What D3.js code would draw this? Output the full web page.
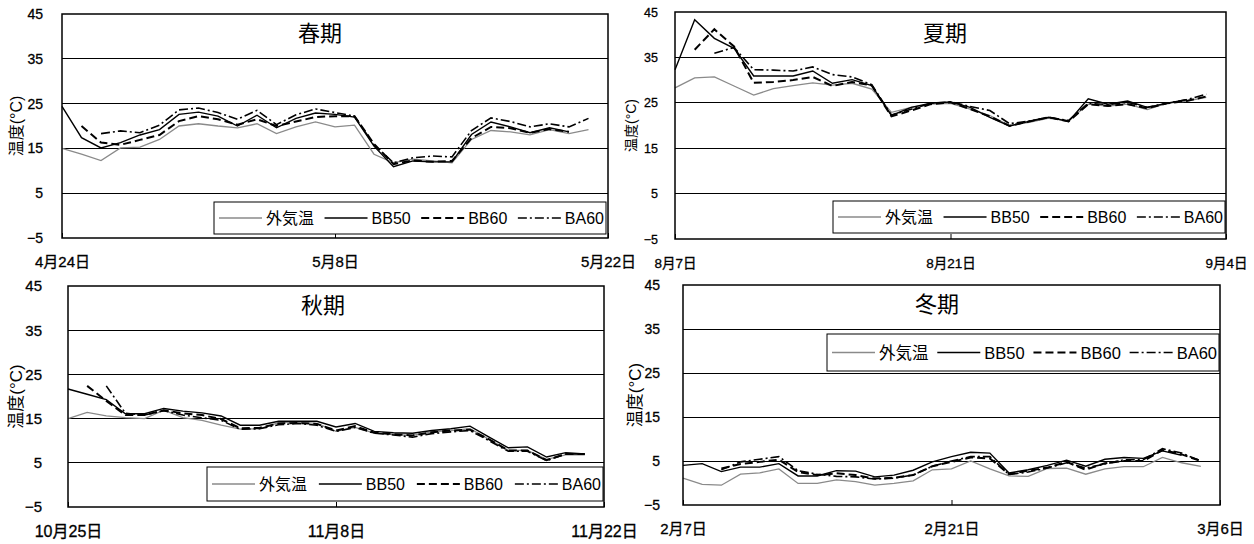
<!DOCTYPE html>
<html><head><meta charset="utf-8">
<script src="https://cdn.jsdelivr.net/npm/d3@7"></script>
<style>
body{margin:0;background:#fff}
svg text{font-family:"Liberation Sans",Arial,"Noto Sans CJK JP",sans-serif;fill:#000}
</style></head><body>
<svg id="c" width="1254" height="544"></svg>
<script>
// Daily mean temperatures (°C) for four measurement periods
const seriesNames = ["外気温", "BB50", "BB60", "BA60"];
const seasonTitles = ["春期", "夏期", "秋期", "冬期"];
const startDates = ["2007-04-24", "2007-08-07", "2007-10-25", "2008-02-07"];
const yTickValues = [-5, 5, 15, 25, 35, 45];
const dateTickOffsets = [0, 14, 28];

const springOutdoor = [15.0, 13.7, 12.3, 15.1, 15.3, 17.0, 20.0, 20.5, 20.0, 19.6, 20.5, 18.3, 19.8, 20.9, 19.8, 20.2, 13.7, 11.8, 12.6, 12.2, 11.8, 17.0, 19.0, 18.7, 18.0, 19.2, 18.3, 19.2];
const springBB50 = [24.4, 17.4, 15.1, 16.3, 18.0, 19.2, 22.6, 23.1, 22.2, 20.0, 22.4, 19.6, 21.7, 22.9, 22.6, 22.0, 15.5, 10.9, 12.2, 12.0, 12.0, 18.1, 20.9, 19.8, 18.5, 19.6, 18.7, null];
const springBB60 = [null, 20.0, 16.3, 15.8, 16.9, 18.0, 21.1, 22.2, 21.5, 20.3, 21.5, 20.0, 21.0, 22.0, 22.2, 22.2, 16.0, 11.5, 12.3, 12.0, 12.2, 17.3, 19.8, 19.5, 18.5, 19.3, 18.7, null];
const springBA60 = [null, null, 18.3, 18.9, 18.5, 20.2, 23.6, 24.0, 23.0, 21.5, 23.5, 20.3, 22.5, 23.8, 23.0, 22.2, 15.8, 11.8, 12.9, 13.3, 13.1, 19.0, 21.8, 21.0, 19.8, 20.5, 19.8, 21.7];

const summerOutdoor = [28.3, 30.5, 30.7, 28.7, 26.7, 28.1, 28.8, 29.4, 28.9, 29.3, 28.0, 22.9, 24.0, 24.7, 24.9, 23.6, 22.2, 20.0, 20.7, 21.6, 21.1, 24.7, 24.3, 24.7, 23.5, 24.9, 25.4, 26.2];
const summerBB50 = [32.3, 43.3, 39.2, 37.0, 30.9, 30.9, 30.9, 32.0, 29.3, 30.1, 28.8, 22.2, 24.0, 24.9, 25.2, 24.0, 21.8, 19.9, 20.9, 21.8, 20.9, 25.9, 24.7, 25.4, 24.0, 24.9, 25.7, null];
const summerBB60 = [null, 36.7, 41.2, 37.4, 29.4, 29.6, 30.0, 30.7, 28.7, 29.6, 28.8, 22.0, 23.3, 24.7, 25.1, 23.6, 22.0, 19.9, 20.9, 21.8, 20.9, 24.7, 24.3, 24.7, 23.8, 24.9, 25.4, 26.4];
const summerBA60 = [null, null, 35.9, 37.2, 32.3, 32.2, 32.0, 32.9, 31.2, 30.7, 29.0, 22.3, 23.6, 24.9, 25.2, 24.2, 23.3, 20.4, 21.0, 21.8, 21.1, 24.9, 24.6, 25.1, 24.0, 24.9, 25.7, 26.9];

const autumnOutdoor = [15.0, 16.4, 15.6, 15.2, 15.0, 16.9, 15.2, 14.6, 13.5, 12.6, 12.7, 14.1, 14.2, 13.9, 12.1, 13.0, 11.7, 11.4, 11.2, 12.0, 12.3, 12.7, 10.3, 7.8, 7.8, 5.8, 6.8, 6.8];
const autumnBB50 = [21.7, 20.5, 19.3, 16.1, 16.1, 17.3, 16.7, 16.3, 15.6, 13.5, 13.5, 14.4, 14.4, 14.4, 13.1, 13.9, 12.1, 11.8, 11.7, 12.3, 12.7, 13.3, 10.8, 8.4, 8.6, 6.3, 7.3, 7.0];
const autumnBB60 = [null, 22.4, 19.0, 15.8, 15.8, 16.9, 16.2, 15.8, 14.9, 12.8, 12.9, 13.9, 14.0, 13.8, 12.3, 13.3, 11.8, 11.5, 11.2, 11.9, 12.3, 12.5, 10.3, 7.8, 7.8, 5.6, 7.0, 7.0];
const autumnBA60 = [null, null, 22.4, 16.2, 15.8, 16.8, 15.8, 15.2, 14.6, 12.6, 12.7, 13.6, 13.9, 13.5, 12.1, 13.0, 11.7, 11.3, 10.8, 11.6, 12.0, 12.3, 10.0, 7.6, 7.6, 5.5, 7.0, 7.0];

const winterOutdoor = [1.1, -0.3, -0.5, 2.0, 2.3, 3.2, -0.1, -0.1, 0.7, 0.3, -0.5, -0.1, 0.5, 3.0, 3.2, 5.0, 3.2, 1.6, 1.5, 3.3, 3.4, 2.0, 3.2, 3.7, 3.7, 5.8, 4.6, 3.8];
const winterBB50 = [4.0, 4.4, 2.6, 3.6, 3.6, 4.4, 1.6, 1.6, 2.8, 2.7, 1.4, 1.8, 2.9, 4.8, 6.0, 7.0, 6.8, 2.3, 3.0, 4.0, 5.2, 3.8, 5.4, 5.8, 5.6, 7.3, 6.3, null];
const winterBB60 = [null, null, 3.3, 4.3, 4.8, 5.3, 2.5, 1.8, 2.2, 1.8, 1.0, 1.2, 1.8, 3.8, 4.8, 5.8, 5.6, 2.0, 2.8, 3.5, 4.8, 3.0, 4.5, 5.0, 5.0, 7.5, 6.5, 5.0];
const winterBA60 = [null, null, 3.0, 4.8, 5.4, 6.0, 2.8, 2.0, 1.5, 1.4, 0.9, 1.1, 1.8, 3.8, 5.0, 6.0, 6.0, 1.9, 2.5, 3.4, 4.6, 3.4, 4.3, 5.3, 5.3, 7.8, 6.8, 5.0];

const seasonSeries = [
  [springOutdoor, springBB50, springBB60, springBA60],
  [summerOutdoor, summerBB50, summerBB60, summerBA60],
  [autumnOutdoor, autumnBB50, autumnBB60, autumnBA60],
  [winterOutdoor, winterBB50, winterBB60, winterBA60]
];

// line appearance per series
const lineStyles = [
  {stroke: "#8a8a8a", width: 1.3, dash: null},
  {stroke: "#000", width: 1.4, dash: null},
  {stroke: "#000", width: 2, dash: "8,4"},
  {stroke: "#000", width: 1.6, dash: "9,3,2,3"}
];

// panel geometry
const panels = [
  {x: 62, y: 14, w: 546, h: 224, titleX: 320, titleY: 33, yTitleX: 16, tickGap: 19,
   fs: {tick: 14, date: 15, legend: 16, yTitle: 16}, legend: {x: 214, y: 202, w: 392, h: 32}},
  {x: 675, y: 12, w: 551, h: 227, titleX: 945, titleY: 33, yTitleX: 631, tickGap: 17,
   fs: {tick: 12.5, date: 13.5, legend: 16, yTitle: 14}, legend: {x: 833, y: 201, w: 392, h: 32}},
  {x: 68, y: 286, w: 536, h: 221, titleX: 323, titleY: 305, yTitleX: 16, tickGap: 26,
   fs: {tick: 15, date: 16, legend: 16, yTitle: 17}, legend: {x: 207, y: 467, w: 396, h: 34}},
  {x: 683, y: 285, w: 537, h: 220, titleX: 937, titleY: 304, yTitleX: 635, tickGap: 23,
   fs: {tick: 14, date: 15, legend: 16.5, yTitle: 17}, legend: {x: 827, y: 334, w: 392, h: 37}}
];

const svg = d3.select("#c");
const parseDate = d3.timeParse("%Y-%m-%d");
const fmtDate = d3.timeFormat("%-m月%-d日");

panels.forEach((p, pi) => {
  const start = parseDate(startDates[pi]);
  const x = d3.scaleTime()
    .domain([start, d3.timeDay.offset(start, 28)])
    .range([p.x, p.x + p.w]);
  const y = d3.scaleLinear().domain([-5, 45]).range([p.y + p.h, p.y]);
  const g = svg.append("g");

  // horizontal gridlines
  g.selectAll("line.grid")
    .data(yTickValues.filter(v => v > -5 && v < 45))
    .join("line")
    .attr("x1", p.x).attr("x2", p.x + p.w)
    .attr("y1", d => y(d)).attr("y2", d => y(d))
    .attr("stroke", "#000").attr("stroke-width", 1)
    .attr("shape-rendering", "crispEdges");

  // y axis
  const ya = g.append("g").attr("transform", `translate(${p.x},0)`)
    .call(d3.axisLeft(y).tickValues(yTickValues).tickSize(0)
      .tickPadding(p.tickGap).tickFormat(d3.format("d")));
  ya.select(".domain").remove();
  ya.selectAll("text").attr("font-size", p.fs.tick)
    .style("font-family", '"Liberation Sans", Arial, sans-serif')
    .attr("stroke", "#000").attr("stroke-width", 0.3);

  // x axis with inward ticks
  const tickDates = dateTickOffsets.map(o => d3.timeDay.offset(start, o));
  const xa = g.append("g").attr("transform", `translate(0,${p.y + p.h})`)
    .call(d3.axisBottom(x).tickValues(tickDates).tickSize(-5).tickFormat(fmtDate));
  xa.select(".domain").remove();
  xa.selectAll("line").attr("stroke", "#000");
  xa.selectAll("text").attr("font-size", p.fs.date).attr("y", 24).attr("dy", "0.35em")
    .attr("stroke", "#000").attr("stroke-width", 0.3);

  // series lines
  const dates = seasonSeries[pi][0].map((_, i) => d3.timeDay.offset(start, i));
  seasonSeries[pi].forEach((vals, si) => {
    const st = lineStyles[si];
    const line = d3.line()
      .defined(d => d != null)
      .x((d, i) => x(dates[i]))
      .y(d => y(d));
    g.append("path")
      .attr("d", line(vals))
      .attr("fill", "none")
      .attr("stroke", st.stroke)
      .attr("stroke-width", st.width)
      .attr("stroke-dasharray", st.dash)
      .attr("stroke-linejoin", "miter");
  });

  // plot frame
  g.append("rect")
    .attr("x", p.x).attr("y", p.y).attr("width", p.w).attr("height", p.h)
    .attr("fill", "none").attr("stroke", "#000").attr("stroke-width", 1.5);

  // title
  g.append("text")
    .attr("x", p.titleX).attr("y", p.titleY)
    .attr("text-anchor", "middle").attr("dominant-baseline", "central")
    .attr("font-size", 22).text(seasonTitles[pi]);

  // y axis title
  g.append("text")
    .attr("transform", `translate(${p.yTitleX},${p.y + p.h / 2}) rotate(-90)`)
    .attr("text-anchor", "middle").attr("dominant-baseline", "central")
    .attr("font-size", p.fs.yTitle).text("温度(°C)");

  // legend: items spread so the last label ends at the box's right edge
  const L = p.legend;
  const lg = g.append("g");
  lg.append("rect").attr("x", L.x).attr("y", L.y).attr("width", L.w).attr("height", L.h)
    .attr("fill", "#fff").attr("stroke", "#000").attr("stroke-width", 1);
  const cy = L.y + L.h / 2;
  const labels = seriesNames.map(name => lg.append("text")
    .attr("y", cy).attr("dominant-baseline", "central")
    .attr("font-size", p.fs.legend).text(name));
  const widths = labels.map(t => t.node().getComputedTextLength());
  const used = d3.sum(widths) + seriesNames.length * 47;
  const gap = (L.w - 5 - 2 - used) / (seriesNames.length - 1);
  let cx = L.x + 5;
  seriesNames.forEach((name, si) => {
    const st = lineStyles[si];
    lg.append("line")
      .attr("x1", cx).attr("x2", cx + 43).attr("y1", cy).attr("y2", cy)
      .attr("stroke", st.stroke).attr("stroke-width", st.width)
      .attr("stroke-dasharray", st.dash);
    labels[si].attr("x", cx + 47);
    cx += 47 + widths[si] + gap;
  });
});
</script>
</body></html>
